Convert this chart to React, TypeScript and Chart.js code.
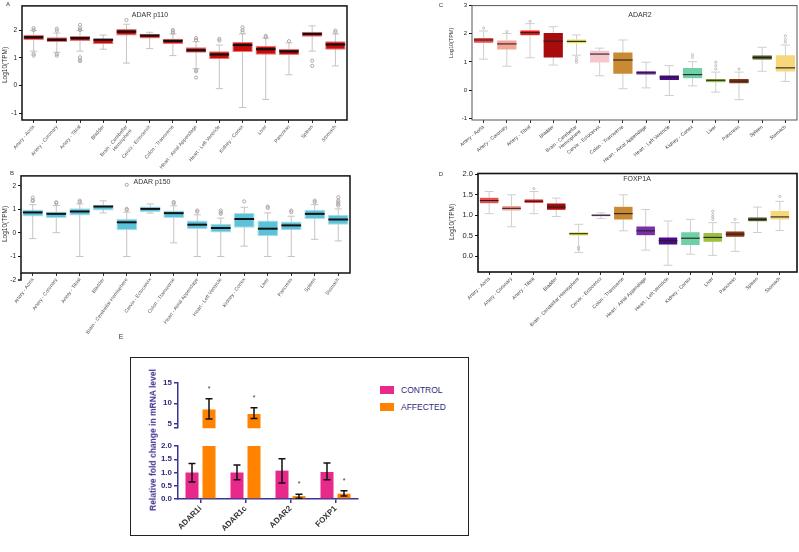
import React, { useEffect, useRef } from 'react';
import { Chart, registerables } from 'chart.js';
Chart.register(...registerables);

const FF = '"Liberation Sans", Arial, Helvetica, sans-serif';
Chart.defaults.font.family = FF;

// ---------- shared categories ----------
const tissues = [
  'Artery - Aorta', 'Artery - Coronary', 'Artery - Tibial', 'Bladder',
  'Brain - Cerebellar Hemisphere', 'Cervix - Ectocervix', 'Colon - Transverse',
  'Heart - Atrial Appendage', 'Heart - Left Ventricle', 'Kidney - Cortex',
  'Liver', 'Pancreas', 'Spleen', 'Stomach',
];
const tissuesWrapped = tissues.map((t) =>
  t === 'Brain - Cerebellar Hemisphere' ? ['Brain - Cerebellar', 'Hemisphere'] : t
);

// ---------- Panel A: ADAR p110 ----------
const aQ1 = [1.64, 1.57, 1.61, 1.50, 1.80, 1.70, 1.50, 1.18, 0.96, 1.21, 1.11, 1.10, 1.76, 1.29];
const aMed = [1.74, 1.65, 1.71, 1.65, 1.94, 1.80, 1.61, 1.27, 1.12, 1.46, 1.31, 1.23, 1.86, 1.48];
const aQ3 = [1.82, 1.74, 1.79, 1.70, 2.04, 1.87, 1.69, 1.38, 1.24, 1.57, 1.43, 1.32, 1.94, 1.60];
const aLo = [1.24, 1.20, 1.24, 1.31, 0.81, 1.33, 1.08, 0.61, -0.11, -0.79, -0.50, 0.39, 1.24, 0.71];
const aHi = [1.98, 1.89, 1.98, 1.82, 2.21, 1.92, 1.86, 1.58, 1.46, 1.86, 1.71, 1.54, 2.15, 1.86];
const aOut = [[2.07, 2.0, 1.14, 1.08], [2.05, 1.98, 1.14, 1.08], [2.19, 2.07, 2.0, 1.02, 0.93, 0.88], [], [2.36], [],
  [2.0, 1.95, 1.9], [1.71, 1.64, 0.55, 0.51, 0.29], [1.68, 1.62], [2.1, 2.0, 1.92], [1.79, 1.74], [1.6], [0.9, 0.71], [1.98, 1.92]];
const aTicks = [-1, 0, 1, 2];

// ---------- Panel B: ADAR p150 ----------
const bQ1 = [0.70, 0.63, 0.74, 0.95, 0.11, 0.88, 0.63, 0.17, 0.00, 0.22, -0.14, 0.11, 0.59, 0.35];
const bMed = [0.87, 0.81, 0.91, 1.12, 0.45, 1.02, 0.84, 0.35, 0.21, 0.59, 0.18, 0.32, 0.81, 0.57];
const bQ3 = [0.99, 0.91, 1.05, 1.20, 0.60, 1.12, 0.95, 0.53, 0.39, 0.85, 0.53, 0.49, 0.98, 0.77];
const bLo = [-0.24, 0.01, -1.0, 0.85, -1.0, 0.84, -0.42, -1.0, -1.0, -0.56, -1.0, -1.0, -0.27, -0.34];
const bHi = [1.20, 1.16, 1.23, 1.36, 0.88, 1.23, 1.15, 0.77, 0.63, 1.09, 0.85, 0.71, 1.20, 1.02];
const bOut = [[1.5, 1.4, 1.35], [1.3, 1.26], [1.37, 1.31], [], [2.04, 1.02, 0.98], [], [1.31, 1.26], [0.95, 0.9],
  [0.95, 0.87, 0.81], [1.34], [1.12, 1.06], [0.95, 0.88], [1.37, 1.31], [1.51, 1.37, 1.3, 1.23, 1.16]];
const bTicks = [-1, 0, 1, 2];
const bAxisExtension = -2;

// ---------- Panel C: ADAR2 ----------
const cQ1 = [1.66, 1.42, 1.93, 1.14, 1.64, 0.96, 0.56, 0.53, 0.34, 0.40, 0.26, 0.22, 1.07, 0.64];
const cMed = [1.78, 1.64, 2.04, 1.74, 1.73, 1.28, 1.07, 0.62, 0.46, 0.55, 0.35, 0.32, 1.16, 0.79];
const cQ3 = [1.87, 1.78, 2.14, 2.05, 1.82, 1.42, 1.36, 0.69, 0.54, 0.81, 0.42, 0.42, 1.25, 1.26];
const cLo = [1.10, 0.85, 1.15, 0.89, 1.24, 0.51, 0.05, 0.08, -0.19, 0.15, -0.07, -0.34, 0.67, 0.31];
const cHi = [2.10, 2.01, 2.36, 2.25, 1.96, 1.49, 1.78, 0.99, 0.87, 1.01, 0.64, 0.64, 1.52, 1.60];
const cOut = [[2.2], [2.08], [2.44], [], [1.16, 1.07, 0.99], [], [], [], [], [1.26, 1.16], [0.99, 0.87, 0.75], [0.75], [], [1.93, 1.8, 1.7]];
const cTicks = [-1, 0, 1, 2, 3];

// ---------- Panel D: FOXP1A ----------
const dQ1 = [1.28, 1.10, 1.29, 1.12, 0.49, 0.96, 0.88, 0.50, 0.27, 0.26, 0.34, 0.46, 0.84, 0.88];
const dMed = [1.36, 1.17, 1.34, 1.20, 0.55, 1.00, 1.04, 0.62, 0.38, 0.44, 0.46, 0.54, 0.90, 0.96];
const dQ3 = [1.44, 1.24, 1.40, 1.30, 0.60, 1.04, 1.22, 0.74, 0.47, 0.60, 0.58, 0.62, 0.96, 1.12];
const dLo = [1.04, 0.72, 1.04, 0.97, 0.09, 0.92, 0.62, 0.15, -0.22, 0.05, 0.02, 0.12, 0.58, 0.63];
const dHi = [1.58, 1.50, 1.58, 1.42, 0.78, 1.06, 1.50, 1.14, 0.86, 0.90, 0.82, 0.82, 1.20, 1.34];
const dOut = [[], [], [1.65], [], [0.22, 0.17], [], [], [], [], [], [1.1, 1.02, 0.96, 0.9], [0.9], [], [1.46]];
const dTicks = [0, 0.5, 1, 1.5, 2];

const tissueColorsC = ['#ec4c4c', '#f5a497', '#ee1b1b', '#a80b0b', '#e3e55e', '#f7c5cc', '#c98a33',
  '#7a30a8', '#4c0b8a', '#6fcfa6', '#9cbf3f', '#8b3812', '#4d5b25', '#f8d77a'];
const tissueColorsD = ['#ec4c4c', '#f5a497', '#ee1b1b', '#a80b0b', '#e3e55e', '#cfa6d6', '#c98a33',
  '#7a30a8', '#4c0b8a', '#6fcfa6', '#9cbf3f', '#8b3812', '#4d5b25', '#f8d77a'];

// ---------- Panel E: qPCR ----------
const eGenes = ['ADAR1i', 'ADAR1c', 'ADAR2', 'FOXP1'];
const controlMean = [1.0, 1.0, 1.07, 1.02];
const controlErrLo = [0.64, 0.73, 0.60, 0.73];
const controlErrHi = [1.34, 1.28, 1.52, 1.36];
const affectedMean = [8.46, 7.40, 0.11, 0.20];
const affectedErrLo = [6.17, 6.30, 0.03, 0.11];
const affectedErrHi = [11.1, 8.94, 0.18, 0.31];
const affectedSig = [true, true, true, true];
const eTopTicks = [5, 10, 15];
const eTopBreak = 3.94;
const eBottomTicks = [0, 0.5, 1, 1.5, 2];

// ---------- plugins ----------
function makeBoxPlugin(p: any) {
  return {
    id: 'boxExtras',
    beforeDatasetsDraw(chart: any) {
      const { ctx } = chart;
      const y = chart.scales.y;
      const meta = chart.getDatasetMeta(0);
      ctx.save();
      ctx.lineWidth = 1;
      meta.data.forEach((el: any, i: number) => {
        const x = el.x;
        const w = el.width;
        const yl = y.getPixelForValue(p.lo[i]);
        const yh = y.getPixelForValue(p.hi[i]);
        const cw = (w * p.capFrac) / 2;
        ctx.strokeStyle = p.whiskerColor;
        ctx.beginPath();
        ctx.moveTo(x, yl); ctx.lineTo(x, yh);
        ctx.moveTo(x - cw, yl); ctx.lineTo(x + cw, yl);
        ctx.moveTo(x - cw, yh); ctx.lineTo(x + cw, yh);
        ctx.stroke();
        ctx.strokeStyle = p.outColor;
        (p.out[i] || []).forEach((v: number) => {
          ctx.beginPath();
          ctx.arc(x, y.getPixelForValue(v), p.outR, 0, Math.PI * 2);
          ctx.stroke();
        });
      });
      ctx.restore();
    },
    afterDatasetsDraw(chart: any) {
      const { ctx } = chart;
      const y = chart.scales.y;
      const meta = chart.getDatasetMeta(0);
      ctx.save();
      ctx.strokeStyle = p.medColor;
      ctx.lineWidth = p.medWidth;
      meta.data.forEach((el: any, i: number) => {
        const ym = y.getPixelForValue(p.med[i]);
        ctx.beginPath();
        ctx.moveTo(el.x - el.width / 2 + 0.5, ym);
        ctx.lineTo(el.x + el.width / 2 - 0.5, ym);
        ctx.stroke();
      });
      const a = chart.chartArea;
      ctx.strokeStyle = p.frameColor;
      ctx.lineWidth = p.frameWidth;
      ctx.strokeRect(a.left, a.top, a.right - a.left + (p.frameExtra || 0), a.bottom - a.top);
      if (p.axisExt !== undefined) {
        const ye = y.getPixelForValue(p.axisExt);
        ctx.beginPath();
        ctx.moveTo(a.left, a.bottom); ctx.lineTo(a.left, ye);
        ctx.lineTo(a.left - 3, ye);
        ctx.stroke();
        ctx.fillStyle = '#222';
        ctx.font = `${p.yFont}px ${FF}`;
        ctx.textAlign = 'right';
        ctx.textBaseline = 'middle';
        ctx.fillText(p.fmt(p.axisExt), a.left - 5, ye);
      }
      ctx.restore();
    },
  };
}

function makeErrPlugin(errs: any[]) {
  return {
    id: 'errBars',
    afterDatasetsDraw(chart: any) {
      const { ctx } = chart;
      const y = chart.scales.y;
      ctx.save();
      errs.forEach((e, di) => {
        const meta = chart.getDatasetMeta(di);
        meta.data.forEach((el: any, i: number) => {
          const v = e.mean[i];
          if (v < y.min || v > y.max) return;
          const x = el.x;
          const yl = y.getPixelForValue(e.lo[i]);
          const yh = y.getPixelForValue(e.hi[i]);
          ctx.strokeStyle = '#111';
          ctx.lineWidth = 1.5;
          ctx.beginPath();
          ctx.moveTo(x, yl); ctx.lineTo(x, yh);
          ctx.moveTo(x - 3.5, yl); ctx.lineTo(x + 3.5, yl);
          ctx.moveTo(x - 3.5, yh); ctx.lineTo(x + 3.5, yh);
          ctx.stroke();
          if (e.sig && e.sig[i]) {
            ctx.fillStyle = '#333';
            ctx.font = `7px ${FF}`;
            ctx.textAlign = 'center';
            ctx.textBaseline = 'middle';
            ctx.fillText('*', x, yh - 10);
          }
        });
      });
      ctx.restore();
    },
  };
}

function boxConfig(p: any) {
  return {
    type: 'bar',
    data: {
      labels: p.labels,
      datasets: [{
        data: p.q1.map((v: number, i: number) => [v, p.q3[i]]),
        backgroundColor: p.fill,
        borderColor: p.border,
        borderWidth: p.bw,
        borderSkipped: false,
        barPercentage: 0.88,
        categoryPercentage: 1,
      }],
    },
    options: {
      responsive: false,
      animation: false,
      events: [],
      layout: { padding: { left: 0, top: p.padTop, right: p.padRight, bottom: 0 } },
      plugins: { legend: { display: false }, tooltip: { enabled: false } },
      scales: {
        x: {
          offset: true,
          grid: { display: true, drawOnChartArea: false, offset: false, tickLength: 3, color: '#333' },
          border: { display: false },
          ticks: {
            autoSkip: false, minRotation: p.rot, maxRotation: p.rot, padding: 1,
            font: { size: p.xFont, family: FF }, color: p.xColor,
          },
          afterFit: (s: any) => { s.height = p.xHeight; },
        },
        y: {
          min: p.yMin,
          max: p.yMax,
          afterBuildTicks: (s: any) => { s.ticks = p.yTicks.map((v: number) => ({ value: v })); },
          ticks: {
            font: { size: p.yFont, family: FF }, color: '#222', padding: 2,
            callback: (v: any) => p.fmt(Number(v)),
          },
          grid: { drawOnChartArea: false, tickLength: 3, color: '#111' },
          border: { display: false },
          afterFit: (s: any) => { s.width = p.yWidth; },
        },
      },
    },
    plugins: [makeBoxPlugin(p)],
  };
}

const AX = '#3a3590';
const AXT = '#2e2a80';

function eConfig(isTop: boolean) {
  return {
    type: 'bar',
    data: {
      labels: eGenes,
      datasets: [
        { label: 'CONTROL', data: controlMean, backgroundColor: '#e8288a', barPercentage: 0.765, categoryPercentage: 0.756 },
        { label: 'AFFECTED', data: affectedMean, backgroundColor: '#ff8200', barPercentage: 0.765, categoryPercentage: 0.756 },
      ],
    },
    options: {
      responsive: false,
      animation: false,
      events: [],
      layout: { padding: { left: 0, right: 12, top: isTop ? 10.7 : 10, bottom: 0 } },
      plugins: { legend: { display: false }, tooltip: { enabled: false } },
      scales: {
        x: {
          display: !isTop,
          offset: true,
          grid: { display: true, drawOnChartArea: false, offset: false, tickLength: 4, color: AX, lineWidth: 1.5 },
          border: { color: AX, width: 1.5 },
          ticks: {
            autoSkip: false, minRotation: 45, maxRotation: 45, padding: 1,
            font: { size: 8, weight: 'bold', family: FF }, color: '#333',
          },
          afterFit: (s: any) => { s.height = isTop ? 0 : 40; },
        },
        y: {
          min: isTop ? eTopBreak : 0,
          max: isTop ? 15 : 2,
          afterBuildTicks: (s: any) => {
            const t = isTop ? [eTopBreak, ...eTopTicks] : eBottomTicks;
            s.ticks = t.map((v) => ({ value: v }));
          },
          ticks: {
            font: { size: 8, weight: 'bold', family: FF }, color: AXT, padding: 2,
            callback: (v: any) => {
              const n = Number(v);
              if (isTop) return n === eTopBreak ? '' : String(n);
              return n.toFixed(1);
            },
          },
          grid: { drawOnChartArea: false, tickLength: 4, color: AX, lineWidth: 1.5 },
          border: { color: AX, width: 1.5 },
          afterFit: (s: any) => { s.width = 48; },
        },
      },
    },
    plugins: [makeErrPlugin([
      { mean: controlMean, lo: controlErrLo, hi: controlErrHi, sig: null },
      { mean: affectedMean, lo: affectedErrLo, hi: affectedErrHi, sig: affectedSig },
    ])],
  };
}

function ChartCanvas({ left, top, width, height, make }: any) {
  const ref = useRef<HTMLCanvasElement>(null);
  useEffect(() => {
    const chart = new Chart(ref.current as any, make());
    return () => chart.destroy();
  }, []);
  return (
    <canvas ref={ref} width={width} height={height}
      style={{ position: 'absolute', left, top, width, height }} />
  );
}

function Txt({ x, y, size, text, color = '#333', rot = false, bold = false }: any) {
  return (
    <div style={{
      position: 'absolute', left: x, top: y, fontSize: size, fontFamily: FF, color,
      fontWeight: bold ? 'bold' : 'normal', whiteSpace: 'nowrap', lineHeight: 1,
      transform: rot ? 'translate(-50%,-50%) rotate(-90deg)' : 'translate(-50%,-50%)',
    }}>{text}</div>
  );
}

const fmtInt = (v: number) => String(v);
const fmt1 = (v: number) => v.toFixed(1);

export default function App() {
  const panelA = () => boxConfig({
    labels: tissuesWrapped, q1: aQ1, q3: aQ3, med: aMed, lo: aLo, hi: aHi, out: aOut,
    fill: '#cc0a0a', border: '#e87878', bw: 1, whiskerColor: '#c9c2c2', outColor: '#b0a8a8', outR: 1.6,
    medColor: '#111', medWidth: 2.2, capFrac: 0.35, frameColor: '#111', frameWidth: 1.5,
    padTop: 5, padRight: 13, yWidth: 22, xHeight: 65, yMin: -1.24, yMax: 2.87, yTicks: aTicks,
    fmt: fmtInt, yFont: 6.5, xFont: 5, xColor: '#555', rot: 50,
  });
  const panelB = () => boxConfig({
    labels: tissues, q1: bQ1, q3: bQ3, med: bMed, lo: bLo, hi: bHi, out: bOut,
    fill: '#5cc2da', border: '#a8dde9', bw: 1, whiskerColor: '#c9c2c2', outColor: '#b0a8a8', outR: 1.6,
    medColor: '#111', medWidth: 2, capFrac: 0.35, frameColor: '#111', frameWidth: 1.5,
    padTop: 5, padRight: 10, yWidth: 21, xHeight: 72, yMin: -1.7, yMax: 2.42, yTicks: bTicks,
    axisExt: bAxisExtension,
    fmt: fmtInt, yFont: 6.5, xFont: 5, xColor: '#555', rot: 54,
  });
  const panelC = () => boxConfig({
    labels: tissuesWrapped, q1: cQ1, q3: cQ3, med: cMed, lo: cLo, hi: cHi, out: cOut,
    fill: tissueColorsC, border: 'rgba(255,255,255,0.35)', bw: 0.6, whiskerColor: '#cfcfcf', outColor: '#bdbdbd', outR: 1.1,
    medColor: '#222', medWidth: 1.1, capFrac: 0.45, frameColor: '#555', frameWidth: 1,
    padTop: 5, padRight: 2, yWidth: 32, xHeight: 65, yMin: -1.06, yMax: 3.0, yTicks: cTicks,
    fmt: fmtInt, yFont: 6, xFont: 5, xColor: '#444', rot: 40,
  });
  const panelD = () => boxConfig({
    labels: tissues, q1: dQ1, q3: dQ3, med: dMed, lo: dLo, hi: dHi, out: dOut,
    fill: tissueColorsD, border: 'rgba(255,255,255,0.35)', bw: 0.6, whiskerColor: '#cfcfcf', outColor: '#bdbdbd', outR: 1.1,
    medColor: '#222', medWidth: 1.1, capFrac: 0.45, frameColor: '#111', frameWidth: 1.6, frameExtra: 6,
    padTop: 5, padRight: 8, yWidth: 38, xHeight: 70, yMin: -0.385, yMax: 2.02, yTicks: dTicks,
    fmt: fmt1, yFont: 7.5, xFont: 5, xColor: '#444', rot: 45,
  });

  return (
    <div style={{ position: 'absolute', left: 0, top: 0, width: 799, height: 552, background: '#fff', overflow: 'hidden' }}>
      <ChartCanvas left={0} top={0} width={360} height={185} make={panelA} />
      <ChartCanvas left={0} top={170} width={360} height={175} make={panelB} />
      <ChartCanvas left={440} top={0} width={359} height={185} make={panelC} />
      <ChartCanvas left={440} top={167} width={359} height={175} make={panelD} />

      <Txt x={8} y={4} size={6} text="A" />
      <Txt x={12} y={173} size={6} text="B" />
      <Txt x={441} y={5} size={6} text="C" />
      <Txt x={441} y={174} size={6} text="D" />
      <Txt x={121} y={336} size={7} text="E" />

      <Txt x={150} y={14} size={7} text="ADAR p110" />
      <Txt x={152} y={181} size={7} text="ADAR p150" />
      <Txt x={640} y={14} size={7} text="ADAR2" />
      <Txt x={637} y={178} size={7} text="FOXP1A" />

      <Txt x={5} y={65} size={6.5} text="Log10(TPM)" rot />
      <Txt x={5} y={224} size={6.5} text="Log10(TPM)" rot />
      <Txt x={452} y={43} size={5.5} text="Log10(TPM)" rot />
      <Txt x={452} y={222} size={6.5} text="Log10(TPM)" rot />

      <div style={{ position: 'absolute', left: 130, top: 357, width: 337, height: 177, border: '1.5px solid #222' }} />
      <ChartCanvas left={130} top={372} width={240} height={63} make={() => eConfig(true)} />
      <ChartCanvas left={130} top={436} width={240} height={103} make={() => eConfig(false)} />
      <Txt x={153} y={440} size={8.5} text="Relative fold change in mRNA level" color="#3a2f8f" rot bold />

      <div style={{ position: 'absolute', left: 380, top: 386, width: 14, height: 8, background: '#e8288a' }} />
      <div style={{ position: 'absolute', left: 380, top: 403, width: 14, height: 8, background: '#ff8200' }} />
      <div style={{ position: 'absolute', left: 401, top: 385, fontSize: 8.5, fontFamily: FF, color: '#2c2a7a', lineHeight: '10px' }}>CONTROL</div>
      <div style={{ position: 'absolute', left: 401, top: 402, fontSize: 8.5, fontFamily: FF, color: '#2c2a7a', lineHeight: '10px' }}>AFFECTED</div>
    </div>
  );
}
